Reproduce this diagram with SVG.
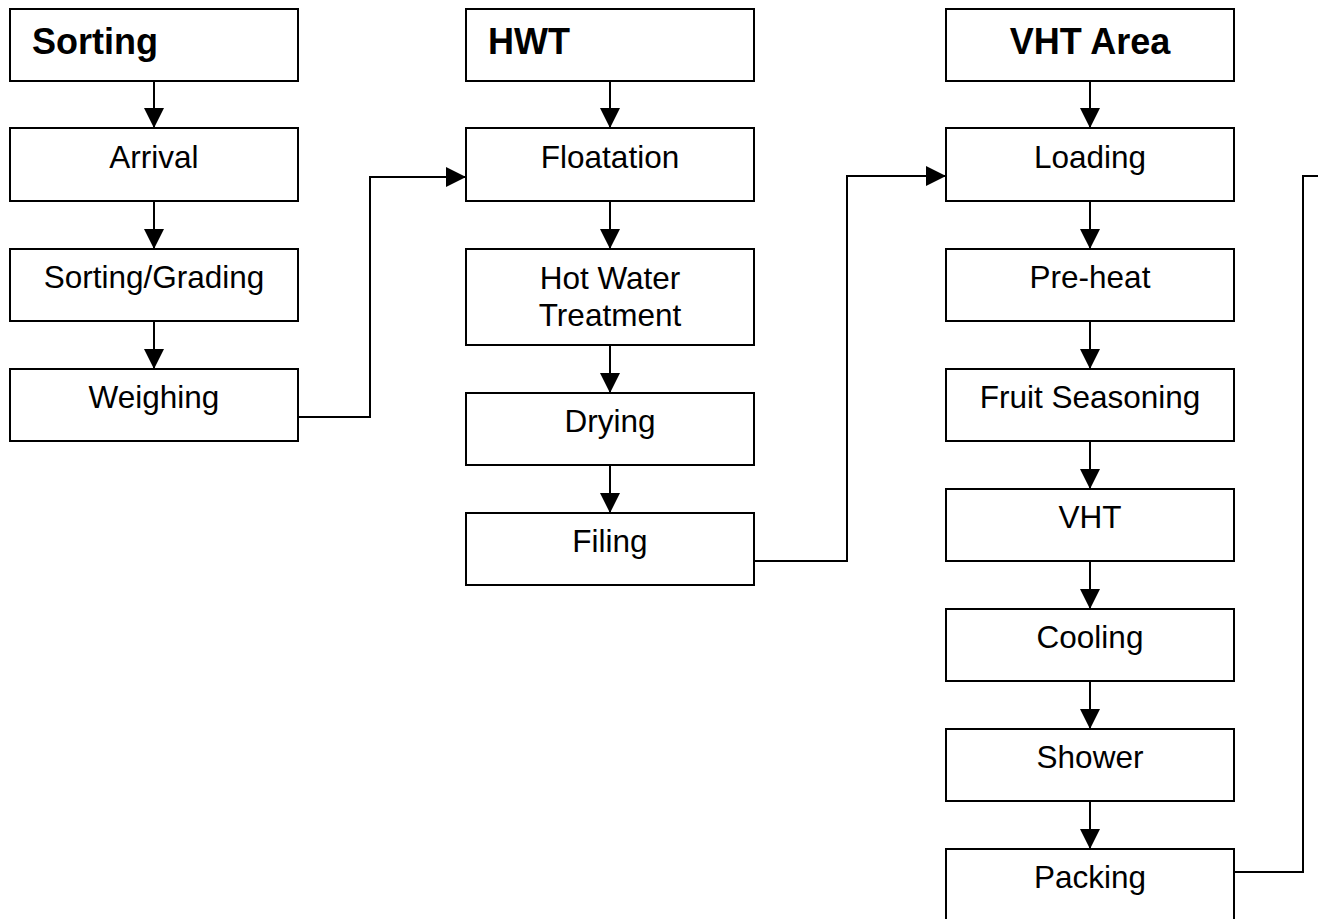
<svg xmlns="http://www.w3.org/2000/svg" width="1318" height="919" viewBox="0 0 1318 919">
<style>
rect{fill:#fff;stroke:#000;stroke-width:2}
text{font-family:"Liberation Sans",Arial,sans-serif;fill:#000}
.t{font-size:31.5px;text-anchor:middle}
.h{font-size:36px;font-weight:bold}
.c{text-anchor:middle}
#connectors path{fill:none;stroke:#000;stroke-width:2}
</style>
<defs>
<marker id="ah" markerUnits="userSpaceOnUse" markerWidth="20" markerHeight="20" refX="20" refY="10" orient="auto" viewBox="0 0 20 20">
<path d="M0,0 L20,10 L0,20 Z" fill="#000"/>
</marker>
</defs>
<rect x="0" y="0" width="1318" height="919" style="stroke:none"/>
<g id="connectors">
<path d="M154,81 V128" marker-end="url(#ah)"/>
<path d="M154,201 V249" marker-end="url(#ah)"/>
<path d="M154,321 V369" marker-end="url(#ah)"/>
<path d="M298,417 H370 V177 H466" marker-end="url(#ah)"/>
<path d="M610,81 V128" marker-end="url(#ah)"/>
<path d="M610,201 V249" marker-end="url(#ah)"/>
<path d="M610,345 V393" marker-end="url(#ah)"/>
<path d="M610,465 V513" marker-end="url(#ah)"/>
<path d="M754,561 H847 V176 H946" marker-end="url(#ah)"/>
<path d="M1090,81 V128" marker-end="url(#ah)"/>
<path d="M1090,201 V249" marker-end="url(#ah)"/>
<path d="M1090,321 V369" marker-end="url(#ah)"/>
<path d="M1090,441 V489" marker-end="url(#ah)"/>
<path d="M1090,561 V609" marker-end="url(#ah)"/>
<path d="M1090,681 V729" marker-end="url(#ah)"/>
<path d="M1090,801 V849" marker-end="url(#ah)"/>
<path d="M1234,872 H1303 V176 H1320"/>
</g>
<g id="sorting"><rect x="10" y="9" width="288" height="72"/><text class="h" x="32" y="54">Sorting</text></g>
<g id="arrival"><rect x="10" y="128" width="288" height="73"/><text class="t" x="154" y="168">Arrival</text></g>
<g id="sorting-grading"><rect x="10" y="249" width="288" height="72"/><text class="t" x="154" y="288">Sorting/Grading</text></g>
<g id="weighing"><rect x="10" y="369" width="288" height="72"/><text class="t" x="154" y="408">Weighing</text></g>
<g id="hwt"><rect x="466" y="9" width="288" height="72"/><text class="h" x="488" y="54">HWT</text></g>
<g id="floatation"><rect x="466" y="128" width="288" height="73"/><text class="t" x="610" y="168">Floatation</text></g>
<g id="hot-water-treatment"><rect x="466" y="249" width="288" height="96"/><text class="t" x="610" y="289">Hot Water</text><text class="t" x="610" y="326">Treatment</text></g>
<g id="drying"><rect x="466" y="393" width="288" height="72"/><text class="t" x="610" y="432">Drying</text></g>
<g id="filing"><rect x="466" y="513" width="288" height="72"/><text class="t" x="610" y="552">Filing</text></g>
<g id="vht-area"><rect x="946" y="9" width="288" height="72"/><text class="h c" x="1090" y="54">VHT Area</text></g>
<g id="loading"><rect x="946" y="128" width="288" height="73"/><text class="t" x="1090" y="168">Loading</text></g>
<g id="pre-heat"><rect x="946" y="249" width="288" height="72"/><text class="t" x="1090" y="288">Pre-heat</text></g>
<g id="fruit-seasoning"><rect x="946" y="369" width="288" height="72"/><text class="t" x="1090" y="408">Fruit Seasoning</text></g>
<g id="vht"><rect x="946" y="489" width="288" height="72"/><text class="t" x="1090" y="528">VHT</text></g>
<g id="cooling"><rect x="946" y="609" width="288" height="72"/><text class="t" x="1090" y="648">Cooling</text></g>
<g id="shower"><rect x="946" y="729" width="288" height="72"/><text class="t" x="1090" y="768">Shower</text></g>
<g id="packing"><rect x="946" y="849" width="288" height="74"/><text class="t" x="1090" y="888">Packing</text></g>
</svg>
